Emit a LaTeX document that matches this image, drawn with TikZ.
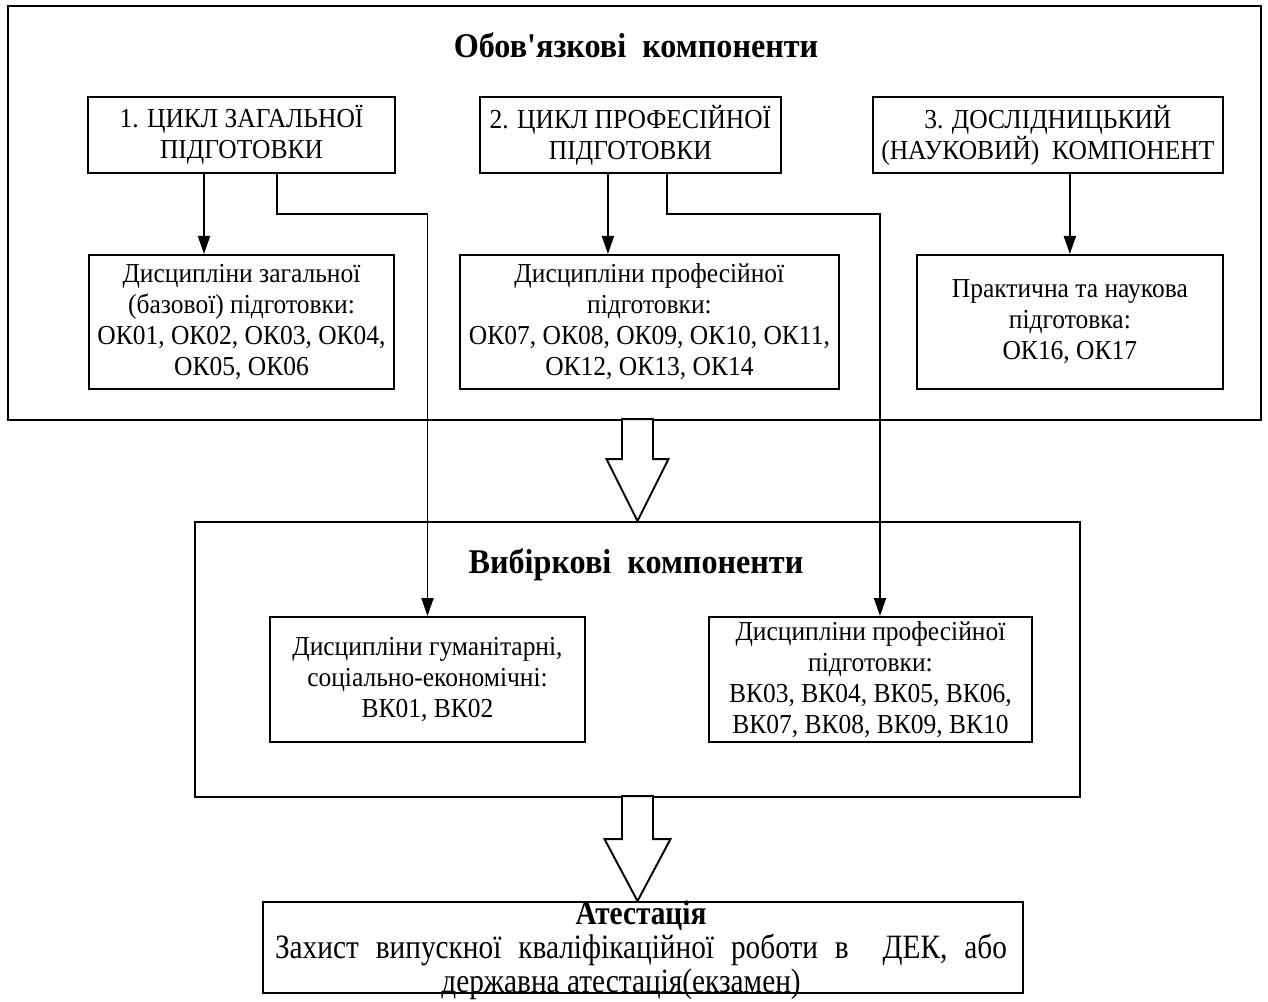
\documentclass[tikz,border=0pt]{standalone}
\usepackage{fontspec}
\setmainfont{Liberation Serif}[Ligatures=TeXOff, FakeStretch=0.93]
\newfontfamily\atestfont{Liberation Serif}[Ligatures=TeXOff, FakeStretch=0.86]
\usetikzlibrary{calc}
\usetikzlibrary{arrows.meta}
\usetikzlibrary{positioning}

\begin{document}
\begin{tikzpicture}[node distance = 1.6cm and 1.7cm,
  block/.style={
    % The shape:
    rectangle,
    % The border:
    line width=1.1pt,
    draw=black,
    % Font
    font=\fontsize{15.6}{17.6}\selectfont,
    inner sep=1pt,
    align = center % required if you use new line
  },
  frame/.style={rectangle, line width=1.1pt, draw=black},
  heading/.style={font=\fontsize{19.7}{22}\selectfont\bfseries},
  hollow/.style={line width=1.1pt, fill=white, line join=miter},
  >={Triangle[length=3.6mm, width=2.4mm]}, line width=1.1pt, black]

  \useasboundingbox (0,0) rectangle (25.36,-20.02);

  \node (oblig) [frame, minimum width=25.06cm, minimum height=8.28cm] at (12.69,-4.26) {};
  \node (oblig title) [heading] at (12.72,-0.9) {Обов'язкові\ \ компоненти};

  \node (up1) [block, minimum width=6.14cm, minimum height=1.52cm] at (4.83,-2.7) {1. ЦИКЛ ЗАГАЛЬНОЇ\\ ПІДГОТОВКИ};
  \node (up2) [block, minimum width=6.02cm, minimum height=1.52cm, right = 1.66cm of up1] {2. ЦИКЛ ПРОФЕСІЙНОЇ\\ ПІДГОТОВКИ};
  \node (up3) [block, minimum width=7.0cm, minimum height=1.52cm, right = 1.8cm of up2] {3. ДОСЛІДНИЦЬКИЙ\\ (НАУКОВИЙ)\ \ КОМПОНЕНТ};

  \node (low1) [block, minimum width=6.1cm, minimum height=2.68cm, below = 1.6cm of up1] {Дисципліни загальної\\ (базової) підготовки:\\ ОК01, ОК02, ОК03, ОК04,\\ ОК05, ОК06};
  \node (low2) [block, minimum width=7.58cm, minimum height=2.68cm, below = 1.6cm of up2, xshift=0.38cm] {Дисципліни професійної\\ підготовки:\\ ОК07, ОК08, ОК09, ОК10, ОК11,\\ ОК12, ОК13, ОК14};
  \node (low3) [block, minimum width=6.12cm, minimum height=2.68cm, below = 1.6cm of up3, xshift=0.44cm] {Практична та наукова\\ підготовка:\\ ОК16, ОК17};

  \draw[->] ([xshift=-0.75cm]up1.south) -- ([xshift=-0.75cm]up1.south |- low1.north);
  \draw[->] ([xshift=-0.45cm]up2.south) -- ([xshift=-0.45cm]up2.south |- low2.north);
  \draw[->] (up3.south -| low3.north) -- (low3.north);

  \node (vybir) [frame, minimum width=17.7cm, minimum height=5.5cm] at (12.75,-13.19) {};
  \node (vybir title) [heading] at (12.72,-11.3) {Вибіркові\ \ компоненти};

  \node (ve1) [block, minimum width=6.3cm, minimum height=2.5cm] at (8.55,-13.59) {Дисципліни гуманітарні,\\ соціально-економічні:\\ ВК01, ВК02};
  \node (ve2) [block, minimum width=6.46cm, minimum height=2.5cm] at (17.41,-13.59) {Дисципліни професійної\\ підготовки:\\ ВК03, ВК04, ВК05, ВК06,\\ ВК07, ВК08, ВК09, ВК10};

  \draw[->] ([xshift=0.71cm]up1.south) -- ++(0,-0.8) -| (ve1.north);
  \draw[->] ([xshift=0.73cm]up2.south) -- ++(0,-0.8) -| ([xshift=0.19cm]ve2.north);

  % hollow arrow between the two frames
  \draw[hollow] (vybir.north) -- ++(-0.62,1.24) -- ++(0.31,0) -- ++(0,0.8) -- ++(0.62,0) -- ++(0,-0.8) -- ++(0.31,0) -- cycle;

  \node (atest) [frame, minimum width=15.2cm, minimum height=1.82cm] at (12.86,-18.95) {};
  \node (atest text) [anchor=south, align=center, inner sep=0pt, font=\atestfont\fontsize{19.4}{19.5}\selectfont] at ([xshift=-0.04cm, yshift=-0.14cm]atest.south) {\textbf{Атестація}\\ \makebox[14.64cm][s]{Захист випускної кваліфікаційної роботи в\ \ ДЕК, або}\\ державна атестація(екзамен)\hspace*{0.8cm}};

  \draw[hollow] (vybir.south |- atest.north) -- ++(-0.66,1.24) -- ++(0.35,0) -- ++(0,0.86) -- ++(0.62,0) -- ++(0,-0.86) -- ++(0.35,0) -- cycle;
\end{tikzpicture}
\end{document}
